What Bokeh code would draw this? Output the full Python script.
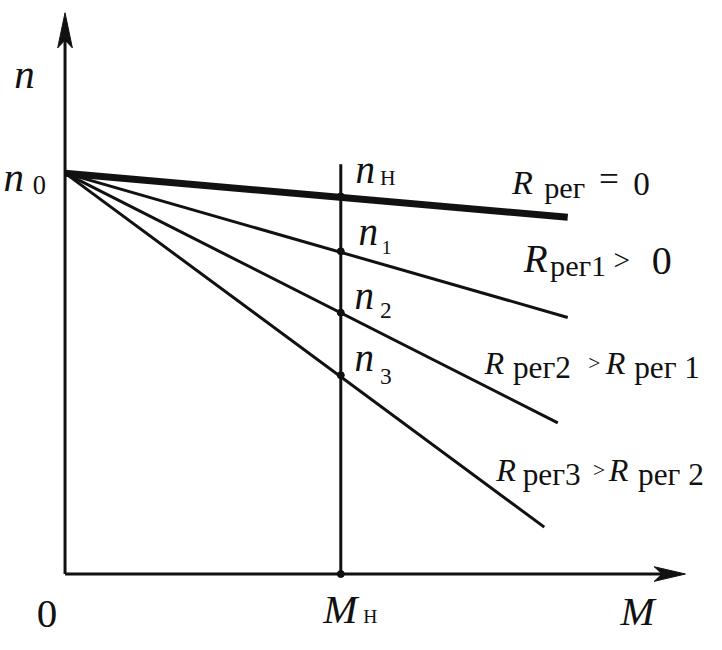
from bokeh.plotting import figure
from bokeh.models import Range1d
from bokeh.core.properties import value
from bokeh.embed import file_html
from bokeh.resources import INLINE

# ---- data (chart units: M relative to M_nom, n relative to n0) ----
M_nom = 1.0
n0 = 1.0
line_names = ["R_reg=0", "R_reg1>0", "R_reg2>R_reg1", "R_reg3>R_reg2"]
n_at_Mnom = [0.942, 0.805, 0.652, 0.496]
M_end = [1.823, 1.823, 1.787, 1.738]
n_end = [0.890, 0.640, 0.377, 0.117]
M_axis_end = 2.25
n_axis_end = 1.40
vline_bottom = -0.005
vline_top = 1.022

# ---- layout helpers (reference pixel -> chart units) ----
SX, SY = 282.0, 411.0
OX, OY = 66.0, 588.0
def px(x):
    return (x - OX) / SX
def py(y):
    return (OY - y) / SY

W, H = 706, 634
KX, KY = W / 722.0, H / 650.0
KF = (KX + KY) / 2
p = figure(width=W, height=H, output_backend="svg", toolbar_location=None,
           x_range=Range1d(px(0), px(722)), y_range=Range1d(py(650), py(0)),
           x_axis_type=None, y_axis_type=None, min_border=0)
p.outline_line_color = None
p.grid.visible = False
p.background_fill_color = "white"
p.border_fill_color = "white"

K = "#111111"

# axes
p.line([0, M_axis_end - 18 / SX], [0, 0], line_width=3, line_color=K)
p.line([0, 0], [0, n_axis_end - 18 / SY], line_width=3, line_color=K)
# arrow heads
tx, ty = M_axis_end, 0.0
p.patch([tx, tx - 32 / SX, tx - 24 / SX, tx - 32 / SX],
        [ty, ty + 7.5 / SY, ty, ty - 7.5 / SY], color=K, line_width=1)
ux, uy = 0.0, n_axis_end
p.patch([ux, ux + 7.5 / SX, ux, ux - 7.5 / SX],
        [uy, uy - 36 / SY, uy - 28 / SY, uy - 36 / SY], color=K, line_width=1)

# vertical line at M_nom
p.line([M_nom, M_nom], [vline_bottom, vline_top], line_width=3, line_color=K)

# characteristic lines
widths = [7, 3, 3, 3]
for ne, me, w in zip(n_end, M_end, widths):
    p.line([0, me], [n0, ne], line_width=w, line_color=K)

# intersection points
p.scatter([M_nom] * len(n_at_Mnom) + [M_nom], n_at_Mnom + [0.0], size=7, color=K)

SERIF = value("Liberation Serif")
DESC = 0.216
labels = [
    ("n", 14, 90, 42, "italic"),
    ("n", 3, 195, 42, "italic"),
    ("0", 33, 193, 27, "normal"),
    ("n", 363, 187, 40, "italic"),
    ("Н", 388, 190, 22, "normal"),
    ("n", 366, 250, 40, "italic"),
    ("1", 390, 256, 20, "normal"),
    ("n", 362, 316, 40, "italic"),
    ("2", 388, 320, 24, "normal"),
    ("n", 362, 379, 40, "italic"),
    ("3", 388, 388, 24, "normal"),
    ("R", 523, 198, 35, "italic"),
    ("рег", 556, 203, 31, "normal"),
    ("=", 612, 196, 36, "normal"),
    ("0", 647, 192, 34, "normal"),
    ("R", 535, 278, 40, "italic"),
    ("рег1", 562, 283, 31, "normal"),
    (">", 627, 276, 30, "normal"),
    ("0", 666, 272, 41, "normal"),
    ("R", 495, 383, 33, "italic"),
    ("рег2", 524, 387, 32, "normal"),
    (">", 601, 379, 22, "normal"),
    ("R", 619, 383, 33, "italic"),
    ("рег 1", 648, 387, 32, "normal"),
    ("R", 507, 493, 33, "italic"),
    ("рег3", 534, 497, 32, "normal"),
    (">", 606, 489, 22, "normal"),
    ("R", 622, 493, 33, "italic"),
    ("рег 2", 652, 497, 32, "normal"),
    ("0", 37, 633, 42, "normal"),
    ("M", 330, 638, 42, "italic"),
    ("Н", 371, 638, 20, "normal"),
    ("M", 634, 640, 42, "italic"),
]
for t, x, y, s, st in labels:
    p.text([px(x)], [py(y + DESC * s)], text=[t], text_font=SERIF,
           text_font_size=f"{s * KF:.1f}px",
           text_font_style=st, text_baseline="bottom", text_align="left",
           text_color=K)

open("out.html", "w").write(file_html(p, INLINE))
